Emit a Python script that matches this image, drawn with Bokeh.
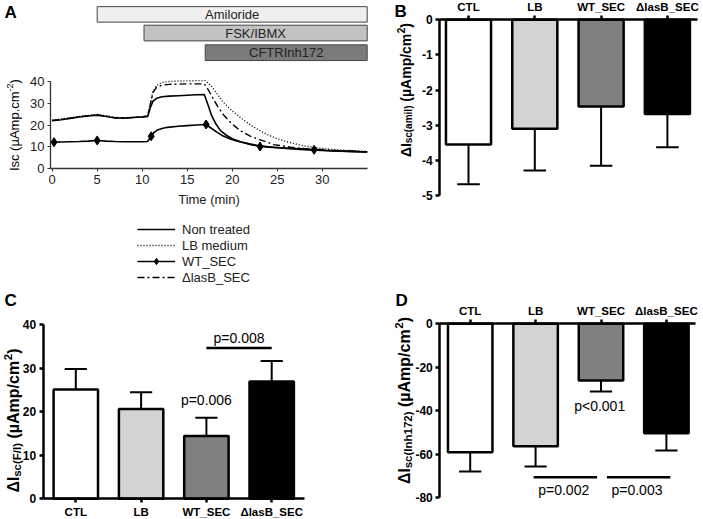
import math
from bokeh.plotting import figure
from bokeh.models import Range1d, FixedTicker, Legend, LegendItem
from bokeh.layouts import column, row
from bokeh.core.properties import value
from bokeh.embed import file_html
from bokeh.resources import INLINE

FONT = "Liberation Sans"

# ---------------- Panel A data ----------------
treatments = ["Amiloride", "FSK/IBMX", "CFTRInh172"]
treat_start = [5.0, 10.2, 17.0]
treat_end = [35.0, 35.0, 35.0]
treat_colors = ["#efefef", "#c2c2c2", "#7b7b7b"]

nt_t = [0, 1, 2, 3, 4, 5, 6, 7, 8, 9, 10, 10.6, 10.9, 11.2, 11.6, 12.2, 13, 14, 15, 16, 16.9,
        17.3, 17.7, 18.2, 18.7, 19.3, 20, 21, 22, 23, 24, 26, 28, 30, 32, 35]
nt_v = [22.0, 22.5, 23.1, 23.7, 24.2, 24.6, 24.0, 23.3, 23.2, 23.5, 23.8, 24.0, 28.0, 31.0, 32.3,
        33.0, 33.3, 33.5, 33.7, 33.9, 34.0, 29.5, 24.5, 20.5, 17.5, 15.5, 13.8, 12.3, 11.3, 10.6,
        10.1, 9.3, 8.8, 8.4, 8.1, 7.7]

lb_t = [0, 1, 2, 3, 4, 5, 6, 7, 8, 9, 10, 10.6, 10.9, 11.2, 11.6, 12.2, 13, 14, 15, 16, 17,
        17.6, 18.3, 19, 20, 21, 22, 23, 24, 25, 26, 27, 28, 30, 32, 35]
lb_v = [22.3, 22.8, 23.4, 24.0, 24.5, 24.9, 24.3, 23.5, 23.4, 23.6, 23.9, 24.2, 30.0, 35.5, 38.3,
        39.5, 40.0, 40.2, 40.3, 40.4, 40.4, 38.3, 34.5, 30.5, 26.5, 23.2, 20.2, 17.6, 15.5, 13.8,
        12.5, 11.4, 10.5, 9.3, 8.6, 8.0]

wt_t = [0.2, 1, 2, 3, 4, 5, 6, 7, 8, 9, 10, 10.6, 11.0, 11.3, 11.7, 12.2, 12.8, 14, 15, 16, 17.1,
        17.6, 18.3, 19, 19.8, 20.5, 21.3, 22, 23.1, 24.5, 26.5, 28, 29.1, 31, 33, 35]
wt_v = [12.2, 12.3, 12.4, 12.5, 12.7, 13.0, 12.7, 12.5, 12.4, 12.4, 12.4, 12.5, 14.9, 16.6, 17.8,
        18.5, 19.0, 19.5, 19.8, 20.1, 20.3, 18.8, 16.8, 15.0, 13.7, 12.7, 11.9, 11.2, 10.2, 9.8,
        9.4, 9.0, 8.7, 8.3, 8.0, 7.7]
wt_mark_t = [0.2, 5, 11.0, 17.1, 23.1, 29.1]
wt_mark_v = [12.2, 13.0, 14.9, 20.3, 10.2, 8.7]

la_t = [0, 1, 2, 3, 4, 5, 6, 7, 8, 9, 10, 10.6, 10.9, 11.2, 11.6, 12.2, 13, 14, 15, 16, 16.9,
        17.3, 17.8, 18.4, 19.1, 20, 20.9, 22, 22.8, 24, 24.6, 26.5, 28, 30.2, 32, 35]
la_v = [22.1, 22.6, 23.2, 23.8, 24.3, 24.7, 24.1, 23.4, 23.3, 23.5, 23.8, 24.1, 29.5, 35.0, 37.3,
        38.3, 38.7, 38.8, 38.9, 38.9, 38.9, 36.5, 32.8, 28.5, 24.4, 20.5, 17.5, 15.0, 13.7, 12.0,
        11.1, 9.9, 9.3, 8.7, 8.3, 7.8]

a_xticks = [0, 5, 10, 15, 20, 25, 30]
a_yticks = [0, 10, 20, 30, 40]

# ---------------- Bar panels data ----------------
cats = ["CTL", "LB", "WT_SEC", "\u0394lasB_SEC"]
bar_colors = ["#ffffff", "#d3d3d3", "#808080", "#000000"]

amil_mean = [-3.55, -3.10, -2.47, -2.68]
amil_err = [1.13, 1.19, 1.68, 0.95]
b_yticks = [0, -1, -2, -3, -4, -5]

fi_mean = [25.1, 20.6, 14.4, 26.9]
fi_err = [4.7, 3.85, 4.2, 4.7]
c_yticks = [0, 10, 20, 30, 40]

inh_mean = [-59.0, -56.3, -26.1, -50.3]
inh_err = [8.9, 9.3, 5.0, 8.0]
d_yticks = [0, -20, -40, -60, -80]

c_pvals = ["p=0.006", "p=0.008"]
d_pvals = ["p<0.001", "p=0.002", "p=0.003"]

# ---------------- helpers ----------------
REG = {' ': .278, '(': .333, ')': .333, '-': .333, '.': .278, '/': .278, 'A': .667, 'I': .278,
       'a': .556, 'c': .5, 'm': .833, 'p': .556, 's': .5, '\u00b5': .576}
BOLD = {' ': .278, '(': .333, ')': .333, '/': .278, 'A': .722, 'F': .611, 'I': .278, 'a': .556,
        'c': .556, 'h': .611, 'i': .278, 'l': .278, 'm': .889, 'n': .611, 'p': .611, 's': .556,
        '\u00b5': .611, '\u0394': .7}


def tw(s, size, bold):
    tab = BOLD if bold else REG
    return sum(tab.get(ch, 0.556) for ch in s) * size


class Geo:
    """pixel <-> data helper for a figure whose frame fills the whole figure."""
    def __init__(self, x_at_px, px, xppu, y_at_px, py, yppu, frame_w, frame_h):
        self.x0 = x_at_px - px / xppu
        self.xppu = xppu
        self.ytop = y_at_px + py / yppu
        self.yppu = yppu
        self.fw = frame_w
        self.fh = frame_h

    def xr(self):
        return Range1d(self.x0, self.x0 + self.fw / self.xppu)

    def yr(self):
        return Range1d(self.ytop - self.fh / self.yppu, self.ytop)

    def x(self, px):
        return self.x0 + px / self.xppu

    def y(self, py):
        return self.ytop - py / self.yppu


def vtitle(p, g, pieces, base_px, center_py, bold):
    # pieces: (text, font px, baseline shift px); text None = blank gap of one space
    widths = [(tw(" ", sz, bold) if t is None else tw(t, sz, bold)) for t, sz, _ in pieces]
    ypx = center_py + sum(widths) / 2   # bottom end of the rotated title, px from top
    for (t, sz, dx), w in zip(pieces, widths):
        if t is not None:
            p.text(x=[g.x(base_px + dx)], y=[g.y(ypx)], text=[t], angle=math.pi / 2,
                   text_font=value(FONT), text_font_size=f"{sz}px",
                   text_font_style="bold" if bold else "normal",
                   text_align="left", text_baseline="alphabetic", text_color="black")
        ypx -= w


def letter(p, g, txt, px, py):
    p.text(x=[g.x(px)], y=[g.y(py)], text=[txt], text_font=value(FONT), text_font_size="17px",
           text_font_style="bold", text_align="left", text_baseline="top", text_color="black")


def fig(w, h, g, **kw):
    p = figure(width=w, height=h, x_range=g.xr(), y_range=g.yr(), output_backend="svg",
               toolbar_location=None, frame_align=False, min_border_left=0, min_border_right=0,
               min_border_top=0, min_border_bottom=0, **kw)
    p.grid.visible = False
    p.outline_line_color = None
    p.background_fill_color = "white"
    p.border_fill_color = "white"
    return p


def style_bar_axes(p, yticks, xb, yb):
    for ax in (p.xaxis[0], p.yaxis[0]):
        ax.axis_line_width = 2.5
        ax.axis_line_color = "black"
        ax.major_tick_line_width = 2.5
        ax.major_tick_line_color = "black"
        ax.major_tick_out = 4
        ax.major_tick_in = 0
        ax.minor_tick_line_color = None
        ax.major_label_text_font = FONT
        ax.major_label_text_font_style = "bold"
        ax.major_label_text_color = "black"
    p.xaxis.ticker = FixedTicker(ticks=list(range(len(cats))))
    p.xaxis.major_label_overrides = {i: c for i, c in enumerate(cats)}
    p.xaxis.major_label_text_font_size = "11.5px"
    p.xaxis.major_label_standoff = 3
    p.xaxis.bounds = xb
    p.xaxis.fixed_location = 0
    p.yaxis.ticker = FixedTicker(ticks=yticks)
    p.yaxis.major_label_overrides = {t: str(t) for t in yticks}
    p.yaxis.major_label_text_font_size = "12px"
    p.yaxis.major_label_standoff = 3
    p.yaxis.bounds = yb
    p.yaxis.fixed_location = xb[0]


def draw_bars(p, means, errs):
    xs = list(range(len(cats)))
    ends = [m + (e if m >= 0 else -e) for m, e in zip(means, errs)]
    p.segment(x0=xs, y0=means, x1=xs, y1=ends, line_color="black", line_width=2)
    p.segment(x0=[x - 0.17 for x in xs], y0=ends, x1=[x + 0.17 for x in xs], y1=ends,
              line_color="black", line_width=2)
    p.vbar(x=xs, width=0.68, bottom=0, top=means, fill_color=bar_colors,
           line_color="black", line_width=2.5)


def ptext(p, xs, ys, texts):
    p.text(x=xs, y=ys, text=texts, text_font=value(FONT), text_font_size="14px",
           text_align="center", text_baseline="middle", text_color="black")


def bar_title(sub, main, small, sub_dx, sup_dx):
    return [("\u0394I", main, 0), (sub, small, sub_dx), (None, main, 0),
            ("(\u00b5Amp/cm", main, 0), ("2", small, sup_dx), (")", main, 0)]


# ---------------- Panel A ----------------
gA = Geo(0, 51.7, 9.0, 0, 168.3, 2.1825, 391, 288)
pA = fig(391, 288, gA)

t_bottom = [67.2, 58.6, 49.6]
t_top = [74.3, 65.8, 56.8]
pA.quad(left=treat_start, right=treat_end, bottom=t_bottom, top=t_top,
        fill_color=treat_colors, line_color="#444444", line_width=1)
pA.text(x=[(s + e) / 2 for s, e in zip(treat_start, treat_end)],
        y=[(b + t) / 2 for b, t in zip(t_bottom, t_top)], text=treatments,
        text_font=value(FONT), text_font_size="13px", text_align="center",
        text_baseline="middle", text_color="#222222")

r_nt = pA.line(nt_t, nt_v, line_color="black", line_width=1.6)
r_lb = pA.line(lb_t, lb_v, line_color="black", line_width=1.4, line_dash="1 2")
r_wt = pA.line(wt_t, wt_v, line_color="black", line_width=1.6)
r_wtm = pA.scatter(wt_mark_t, wt_mark_v, marker="diamond", size=9, fill_color="black",
                   line_color="black")
r_la = pA.line(la_t, la_v, line_color="black", line_width=1.4, line_dash="7 3 2 3")

for ax in (pA.xaxis[0], pA.yaxis[0]):
    ax.axis_line_color = "#333333"
    ax.axis_line_width = 1.3
    ax.major_tick_line_color = "#333333"
    ax.major_tick_out = 3
    ax.major_tick_in = 0
    ax.minor_tick_line_color = None
    ax.major_label_text_font = FONT
    ax.major_label_text_font_size = "13px"
    ax.major_label_text_color = "#222222"
pA.yaxis.fixed_location = -0.2
pA.yaxis.bounds = (0, 40)
pA.yaxis.ticker = FixedTicker(ticks=a_yticks)
pA.yaxis.major_label_standoff = 3
pA.xaxis.fixed_location = 0
pA.xaxis.bounds = (-0.2, 35)
pA.xaxis.ticker = FixedTicker(ticks=a_xticks)
pA.xaxis.major_label_standoff = 3
pA.xaxis.axis_label = "Time (min)"
pA.xaxis.axis_label_text_font = FONT
pA.xaxis.axis_label_text_font_size = "13px"
pA.xaxis.axis_label_text_font_style = "normal"
pA.xaxis.axis_label_text_color = "#222222"
pA.xaxis.axis_label_standoff = 5

legend = Legend(items=[LegendItem(label="Non treated", renderers=[r_nt]),
                       LegendItem(label="LB medium", renderers=[r_lb]),
                       LegendItem(label="WT_SEC", renderers=[r_wt, r_wtm]),
                       LegendItem(label="\u0394lasB_SEC", renderers=[r_la])],
                location=(137, 3), orientation="vertical", padding=0, margin=0, spacing=0,
                glyph_width=38, glyph_height=16, label_height=16, label_standoff=7,
                label_text_font=FONT, label_text_font_size="13px", label_text_color="#222222",
                border_line_color=None, background_fill_alpha=0)
pA.add_layout(legend, "center")

vtitle(pA, gA, [("Isc (\u00b5Amp.cm", 13, 0), ("-2", 9, -5), (")", 13, 0)], 14, 124.6, False)
letter(pA, gA, "A", 4, 2)

# ---------------- Panel B ----------------
gB = Geo(0, 77, 66.3, 0, 19.3, 35.14, 311, 288)
pB = fig(311, 288, gB, x_axis_location="above")
draw_bars(pB, amil_mean, amil_err)
style_bar_axes(pB, b_yticks, (-0.433, 3.45), (-5, 0))
vtitle(pB, gB, bar_title("sc(amil)", 14, 10, 3, -5), 14, 89.5, True)
letter(pB, gB, "B", 3, 1)

# ---------------- Panel C ----------------
gC = Geo(0, 75.3, 65.3, 0, 210.3, 4.3575, 391, 230)
pC = fig(391, 230, gC)
draw_bars(pC, fi_mean, fi_err)
style_bar_axes(pC, c_yticks, (-0.5, 3.5), (0, 40))
pC.segment(x0=[2.0], y0=[34.6], x1=[3.0], y1=[34.6], line_color="black", line_width=2.5)
ptext(pC, [2.0, 2.5], [22.6, 36.9], c_pvals)
vtitle(pC, gC, bar_title("sc(F/I)", 16, 11.5, 3, -6), 13, 132, True)
letter(pC, gC, "C", 4, 2)

# ---------------- Panel D ----------------
gD = Geo(0, 78.7, 65.4, 0, 35.3, 2.175, 311, 230)
pD = fig(311, 230, gD, x_axis_location="above")
draw_bars(pD, inh_mean, inh_err)
style_bar_axes(pD, d_yticks, (-0.465, 3.45), (-80, 0))
pD.segment(x0=[0.97, 2.09], y0=[-70.5, -70.5], x1=[1.94, 3.06], y1=[-70.5, -70.5],
           line_color="black", line_width=2.5)
ptext(pD, [1.98, 1.43, 2.55], [-37.6, -76.6, -76.6], d_pvals)
vtitle(pD, gD, bar_title("sc(Inh172)", 16, 11.5, 3, -6), 13, 112, True)
letter(pD, gD, "D", 4, 2)

layout = column(row(pA, pB), row(pC, pD))
open("out.html", "w").write(file_html(layout, INLINE))
